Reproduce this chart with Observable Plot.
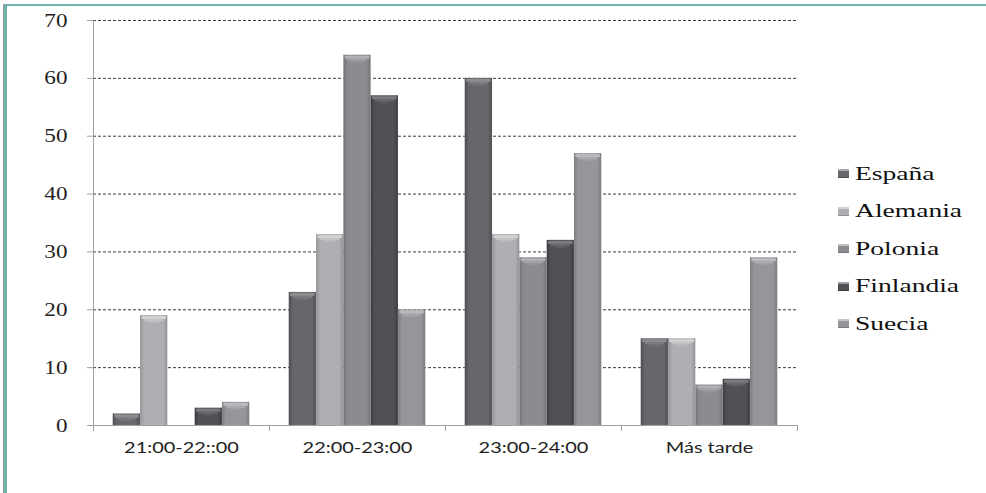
<!DOCTYPE html>
<html>
<head>
<meta charset="utf-8">
<script src="https://cdn.jsdelivr.net/npm/d3@7"></script>
<script src="https://cdn.jsdelivr.net/npm/@observablehq/plot@0.6"></script>
<style>
  html, body { margin: 0; padding: 0; background: #fff; }
  #wrap { position: relative; width: 986px; height: 493px; overflow: hidden; }
  #border { position: absolute; left: 4px; top: 4px; right: -10px; bottom: -10px;
            border-left: 3px solid #6fb3ae; border-top: 2px solid #6fb3ae; box-shadow: -1px 0 0 #9a9a9a; }
  #chart { position: absolute; left: 0; top: 0; }
  #legend { position: absolute; left: 838px; top: 155px; color: #111; font-family: "Liberation Serif", "DejaVu Serif", serif; font-size: 19px; }
  .item { height: 37.5px; display: flex; align-items: center; white-space: nowrap; }
  .item span { display: inline-block; transform: scaleX(1.45); transform-origin: left center; }
  .sw { width: 11px; height: 9px; margin-right: 6px; box-sizing: border-box; border-top: 2px solid rgba(255,255,255,0.45); }
</style>
</head>
<body>
<div id="wrap">
  <div id="border"></div>
  <div id="chart"></div>
  <div id="legend"></div>
</div>
<svg width="0" height="0" style="position:absolute">
  <defs id="grads"></defs>
</svg>
<script>
// ---- data ----
const categories = ["21:00-22::00", "22:00-23:00", "23:00-24:00", "Más tarde"];
const series = ["España", "Alemania", "Polonia", "Finlandia", "Suecia"];
const espana    = [2, 23, 60, 15];
const alemania  = [19, 33, 33, 15];
const polonia   = [0, 64, 29, 7];
const finlandia = [3, 57, 32, 8];
const suecia    = [4, 20, 47, 29];
const yTicks = [0, 10, 20, 30, 40, 50, 60, 70];

// ---- styles ----
const serif = "Liberation Serif, DejaVu Serif, serif";
const colors = {
  "España":    ["#4c4d51", "#66676b", "#8c8d91"],
  "Alemania":  ["#929397", "#aeafb2", "#d0d1d3"],
  "Polonia":   ["#727377", "#8b8c90", "#b0b1b4"],
  "Finlandia": ["#3a3b3f", "#505155", "#7a7b7f"],
  "Suecia":    ["#7c7d81", "#95969a", "#b9babd"]
};
const defs = d3.select("#grads");
series.forEach((s, i) => {
  const g = defs.append("linearGradient").attr("id", "g" + i).attr("x1", "0").attr("x2", "1").attr("y1", "0").attr("y2", "0");
  const [edge, mid] = colors[s];
  g.append("stop").attr("offset", "0").attr("stop-color", edge);
  g.append("stop").attr("offset", "0.15").attr("stop-color", mid);
  g.append("stop").attr("offset", "0.85").attr("stop-color", mid);
  g.append("stop").attr("offset", "1").attr("stop-color", edge);
});

const valuesBySeries = [espana, alemania, polonia, finlandia, suecia];
const groupPad = 0.112;
const barW = (1 - 2 * groupPad) / series.length;
const data = [];
categories.forEach((c, ci) => {
  series.forEach((s, si) => {
    const x1 = ci + groupPad + si * barW;
    data.push({cat: c, ci, series: s, si, value: valuesBySeries[si][ci], x1, x2: x1 + barW});
  });
});
const nonzero = data.filter(d => d.value > 0);

const plot = Plot.plot({
  width: 986,
  height: 493,
  marginLeft: 93,
  marginRight: 189,
  marginTop: 20,
  marginBottom: 68,
  x: {domain: [0, categories.length], axis: null},
  y: {domain: [0, 70], axis: null},
  style: {background: "transparent", overflow: "visible"},
  marks: [
    Plot.ruleY(yTicks.filter(t => t > 0), {stroke: "#3a3a3a", strokeDasharray: "3,2", strokeWidth: 1}),
    Plot.ruleX([0], {y1: 0, y2: 70, stroke: "#a0a0a0"}),
    Plot.axisY({ticks: yTicks, tickSize: 6, tickPadding: 20, stroke: "#a0a0a0", label: null,
      fontSize: 19, fontFamily: serif, fill: "#222", color: "#222", ariaLabel: "ylabels"}),
    Plot.rectY(nonzero, {x1: "x1", x2: "x2", y1: 0, y2: "value",
      fill: d => `url(#g${d.si})`, stroke: "#ffffff", strokeOpacity: 0.15, strokeWidth: 0.5}),
    Plot.ruleY(nonzero, {x1: d => d.x1 + barW * 0.05, x2: d => d.x2 - barW * 0.05, y: "value",
      stroke: d => colors[d.series][2], strokeWidth: 3, dy: 2}),
    Plot.ruleY(nonzero, {x1: d => d.x1 + barW * 0.15, x2: d => d.x2 - barW * 0.15, y: "value",
      stroke: d => colors[d.series][2], strokeWidth: 2, dy: 4.5, strokeOpacity: 0.6}),
    Plot.ruleY(nonzero, {x1: d => d.x1 + barW * 0.28, x2: d => d.x2 - barW * 0.28, y: "value",
      stroke: d => colors[d.series][2], strokeWidth: 2, dy: 6.5, strokeOpacity: 0.3}),
    Plot.ruleY([0], {x1: 0, x2: categories.length, stroke: "#a0a0a0"}),
    Plot.axisX({ticks: d3.range(categories.length + 1), tickSize: 6, tickFormat: () => "", stroke: "#a0a0a0", label: null}),
    Plot.axisX({ticks: categories.map((c, i) => i + 0.5), tickSize: 0, tickPadding: 17, label: null,
      tickFormat: (d) => categories[Math.floor(d)], fontSize: 15,
      fontFamily: "Lato, Carlito, Calibri, sans-serif", fill: "#222", color: "#222", ariaLabel: "xlabels"})
  ]
});
document.getElementById("chart").appendChild(plot);

// the reference's text is horizontally stretched
d3.select(plot).selectAll("g[aria-label^='ylabels'] text").each(function() {
  const t = this.getAttribute("transform") || "";
  this.setAttribute("transform", t + " scale(1.22,1)");
});
d3.select(plot).selectAll("g[aria-label^='xlabels'] text").each(function() {
  const t = this.getAttribute("transform") || "";
  this.setAttribute("transform", t + " scale(1.33,1)");
});

const leg = d3.select("#legend");
series.forEach((s, i) => {
  const it = leg.append("div").attr("class", "item");
  it.append("div").attr("class", "sw").style("background", colors[s][1]).style("border-bottom", "1px solid " + colors[s][0]);
  it.append("span").text(s);
});
</script>
</body>
</html>
